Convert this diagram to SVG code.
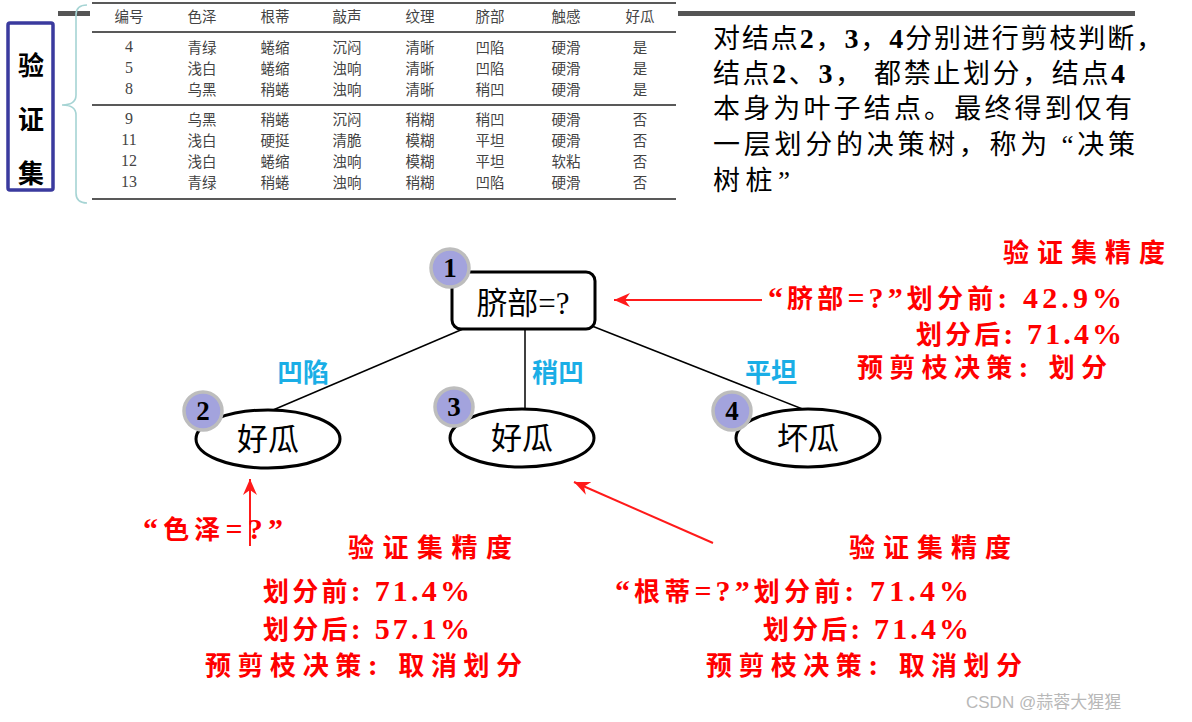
<svg xmlns="http://www.w3.org/2000/svg" width="1192" height="722" viewBox="0 0 1192 722">
<defs>
<style>
.tbl{font-family:"Noto Sans CJK SC",sans-serif;font-size:14.5px;fill:#444;text-anchor:middle}
.num{font-family:"Liberation Serif",serif;font-size:16px;fill:#444;text-anchor:middle}
.rule{stroke:#222;stroke-width:1.6}
.para{font-family:"Liberation Serif","Noto Sans CJK SC",sans-serif;font-size:27px;fill:#000}
.para .d{font-weight:bold;font-size:28px}
.node{font-family:"Liberation Serif","Noto Sans CJK SC",serif;font-size:31px;fill:#000;text-anchor:middle}
.badge circle{fill:#a3a3dd;stroke:#bdbdbd;stroke-width:3.5}
.badge text{font-family:"Liberation Serif",serif;font-weight:bold;font-size:27px;fill:#000;text-anchor:middle}
.shape{fill:#fff;stroke:#000;stroke-width:3}
.edge{stroke:#000;stroke-width:1.5;fill:none}
.lbl{font-family:"Noto Sans CJK SC",sans-serif;font-weight:bold;font-size:26px;fill:#1aaee6}
.red{font-family:"Liberation Serif","Noto Sans CJK SC",serif;font-weight:bold;font-size:26px;fill:#ff0000}
.red .n{font-size:30px}
.rarrow{stroke:#ff1a1a;stroke-width:2;fill:none;marker-end:url(#rh)}
</style>
<marker id="rh" markerUnits="userSpaceOnUse" markerWidth="18" markerHeight="14" refX="16" refY="7" orient="auto">
<path d="M0,0 L16,7 L0,14 L5,7 z" fill="#ff1a1a"/>
</marker>
</defs>
<rect width="1192" height="722" fill="#fff"/>

<!-- top gray bars -->
<rect x="58" y="11" width="32" height="5" fill="#555"/>
<rect x="678" y="11" width="457" height="5" fill="#555"/>

<!-- validation set label -->
<g id="valset-label">
<rect x="8" y="23" width="45" height="167" fill="#fff" stroke="#3a3a9e" stroke-width="3.5" rx="2"/>
<g font-family="Noto Sans CJK SC,sans-serif" font-weight="bold" font-size="26" text-anchor="middle" fill="#000">
<text x="31" y="75">验</text>
<text x="31" y="129">证</text>
<text x="31" y="183">集</text>
</g>
</g>

<!-- brace -->
<path d="M87,5 Q76,5 76,15 L76,95 Q76,105 62,105 Q76,105 76,115 L76,193 Q76,203 87,203" fill="none" stroke="#a6d4d4" stroke-width="1.6"/>

<!-- table -->
<g id="table">
<line class="rule" x1="92" y1="3" x2="676" y2="3"/>
<line class="rule" x1="92" y1="32" x2="676" y2="32"/>
<line class="rule" x1="92" y1="105" x2="676" y2="105"/>
<line class="rule" x1="92" y1="199" x2="676" y2="199"/>
<g class="tbl">
<text x="129" y="22">编号</text><text x="202" y="22">色泽</text><text x="275" y="22">根蒂</text><text x="347" y="22">敲声</text><text x="420" y="22">纹理</text><text x="490" y="22">脐部</text><text x="566" y="22">触感</text><text x="640" y="22">好瓜</text>
<text x="202" y="53">青绿</text><text x="275" y="53">蜷缩</text><text x="347" y="53">沉闷</text><text x="420" y="53">清晰</text><text x="490" y="53">凹陷</text><text x="566" y="53">硬滑</text><text x="640" y="53">是</text>
<text x="202" y="74">浅白</text><text x="275" y="74">蜷缩</text><text x="347" y="74">浊响</text><text x="420" y="74">清晰</text><text x="490" y="74">凹陷</text><text x="566" y="74">硬滑</text><text x="640" y="74">是</text>
<text x="202" y="95">乌黑</text><text x="275" y="95">稍蜷</text><text x="347" y="95">浊响</text><text x="420" y="95">清晰</text><text x="490" y="95">稍凹</text><text x="566" y="95">硬滑</text><text x="640" y="95">是</text>
<text x="202" y="125">乌黑</text><text x="275" y="125">稍蜷</text><text x="347" y="125">沉闷</text><text x="420" y="125">稍糊</text><text x="490" y="125">稍凹</text><text x="566" y="125">硬滑</text><text x="640" y="125">否</text>
<text x="202" y="146">浅白</text><text x="275" y="146">硬挺</text><text x="347" y="146">清脆</text><text x="420" y="146">模糊</text><text x="490" y="146">平坦</text><text x="566" y="146">硬滑</text><text x="640" y="146">否</text>
<text x="202" y="167">浅白</text><text x="275" y="167">蜷缩</text><text x="347" y="167">浊响</text><text x="420" y="167">模糊</text><text x="490" y="167">平坦</text><text x="566" y="167">软粘</text><text x="640" y="167">否</text>
<text x="202" y="188">青绿</text><text x="275" y="188">稍蜷</text><text x="347" y="188">浊响</text><text x="420" y="188">稍糊</text><text x="490" y="188">凹陷</text><text x="566" y="188">硬滑</text><text x="640" y="188">否</text>
</g>
<g class="num">
<text x="129" y="52">4</text><text x="129" y="73">5</text><text x="129" y="94">8</text>
<text x="129" y="124">9</text><text x="129" y="145">11</text><text x="129" y="166">12</text><text x="129" y="187">13</text>
</g>
</g>

<!-- paragraph -->
<g id="note" class="para">
<text x="713" y="48" textLength="450" lengthAdjust="spacing">对结点<tspan class="d">2</tspan>，<tspan class="d">3</tspan>，<tspan class="d">4</tspan>分别进行剪枝判断，</text>
<text x="713" y="83" textLength="412" lengthAdjust="spacing">结点<tspan class="d">2</tspan>、<tspan class="d">3</tspan>， 都禁止划分，结点<tspan class="d">4</tspan></text>
<text x="713" y="118" textLength="419" lengthAdjust="spacing">本身为叶子结点。最终得到仅有</text>
<text x="713" y="154" textLength="422" lengthAdjust="spacing">一层划分的决策树，称为 “决策</text>
<text x="713" y="190" textLength="77" lengthAdjust="spacing">树桩”</text>
</g>

<!-- connectors -->
<g id="connectors">
<line class="edge" x1="463" y1="329" x2="273" y2="410"/>
<line class="edge" x1="525" y1="329" x2="525" y2="410"/>
<line class="edge" x1="592" y1="326" x2="805" y2="410"/>
<text class="lbl" x="277" y="382">凹陷</text>
<text class="lbl" x="532" y="382">稍凹</text>
<text class="lbl" x="745" y="382">平坦</text>
<line class="rarrow" x1="762" y1="300" x2="614" y2="300"/>
<line class="rarrow" x1="250" y1="546" x2="250" y2="479"/>
<line class="rarrow" x1="713" y1="543" x2="574" y2="482"/>
</g>

<!-- nodes -->
<g id="node1">
<rect class="shape" x="452" y="272" width="143" height="57" rx="9"/>
<text class="node" x="523" y="314">脐部=?</text>
<g class="badge"><circle cx="450" cy="268" r="19"/><text x="450" y="277">1</text></g>
</g>
<g id="node2">
<ellipse class="shape" cx="268" cy="439" rx="72" ry="29"/>
<text class="node" x="268" y="450">好瓜</text>
<g class="badge"><circle cx="203" cy="411" r="19"/><text x="203" y="420">2</text></g>
</g>
<g id="node3">
<ellipse class="shape" cx="522" cy="438" rx="72" ry="29"/>
<text class="node" x="522" y="449">好瓜</text>
<g class="badge"><circle cx="454" cy="407" r="19"/><text x="454" y="416">3</text></g>
</g>
<g id="node4">
<ellipse class="shape" cx="808" cy="438" rx="72" ry="29"/>
<text class="node" x="808" y="449">坏瓜</text>
<g class="badge"><circle cx="732" cy="411" r="19"/><text x="732" y="420">4</text></g>
</g>

<!-- red annotations -->
<g id="ann-root" class="red">
<text x="1003" y="262" textLength="162" lengthAdjust="spacing">验证集精度</text>
<text x="768" y="308" textLength="354" lengthAdjust="spacing"><tspan class="n">“</tspan>脐部<tspan class="n">=?”</tspan>划分前<tspan class="n">: 42.9%</tspan></text>
<text x="916" y="344" textLength="206" lengthAdjust="spacing">划分后<tspan class="n">: 71.4%</tspan></text>
<text x="857" y="377" textLength="250" lengthAdjust="spacing">预剪枝决策<tspan class="n">: </tspan>划分</text>
</g>
<g id="ann-left" class="red">
<text x="143" y="539" textLength="140" lengthAdjust="spacing"><tspan class="n">“</tspan>色泽<tspan class="n">=?”</tspan></text>
<text x="348" y="557" textLength="164" lengthAdjust="spacing">验证集精度</text>
<text x="263" y="601" textLength="207" lengthAdjust="spacing">划分前<tspan class="n">: 71.4%</tspan></text>
<text x="263" y="639" textLength="207" lengthAdjust="spacing">划分后<tspan class="n">: 57.1%</tspan></text>
<text x="205" y="675" textLength="317" lengthAdjust="spacing">预剪枝决策<tspan class="n">: </tspan>取消划分</text>
</g>
<g id="ann-right" class="red">
<text x="849" y="557" textLength="162" lengthAdjust="spacing">验证集精度</text>
<text x="615" y="601" textLength="354" lengthAdjust="spacing"><tspan class="n">“</tspan>根蒂<tspan class="n">=?”</tspan>划分前<tspan class="n">: 71.4%</tspan></text>
<text x="763" y="639" textLength="206" lengthAdjust="spacing">划分后<tspan class="n">: 71.4%</tspan></text>
<text x="706" y="675" textLength="316" lengthAdjust="spacing">预剪枝决策<tspan class="n">: </tspan>取消划分</text>
</g>

<text x="966" y="708" font-family="Liberation Sans,Noto Sans CJK SC,sans-serif" font-size="17" fill="#b8b8b8">CSDN @蒜蓉大猩猩</text>
</svg>
